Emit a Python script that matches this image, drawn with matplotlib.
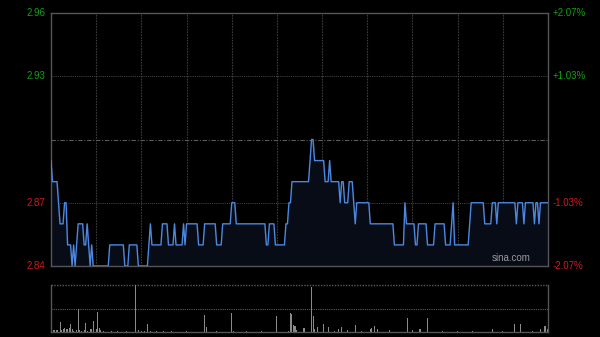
import matplotlib
matplotlib.use("Agg")
import matplotlib.pyplot as plt

# ---- data (minute-by-minute price) ----
prices = [
    2.89,
    2.88, 2.88, 2.88, 2.88,
    2.87,
    2.86, 2.86, 2.86,
    2.87, 2.87,
    2.85, 2.85, 2.85,
    2.84, 2.85, 2.84, 2.85,
    2.86, 2.86, 2.86, 2.86,
    2.85, 2.85, 2.86, 2.85, 2.84, 2.85,
    2.84, 2.84, 2.84, 2.84, 2.84, 2.84, 2.84, 2.84, 2.84, 2.84, 2.84,
    2.85, 2.85, 2.85, 2.85, 2.85, 2.85, 2.85, 2.85, 2.85, 2.85,
    2.84, 2.84, 2.84,
    2.85, 2.85, 2.85, 2.85, 2.85, 2.85,
    2.84, 2.84, 2.84, 2.84, 2.84, 2.84, 2.84,
    2.85, 2.86,
    2.85, 2.85, 2.85, 2.85, 2.85, 2.85, 2.85,
    2.86, 2.86, 2.86, 2.86,
    2.85, 2.85, 2.85, 2.85,
    2.86,
    2.85, 2.85, 2.85, 2.85, 2.85,
    2.86, 2.85,
    2.86, 2.86, 2.86, 2.86, 2.86, 2.86, 2.86, 2.86,
    2.85, 2.85, 2.85, 2.85,
    2.86, 2.86, 2.86, 2.86, 2.86, 2.86, 2.86, 2.86,
    2.85, 2.85, 2.85, 2.85,
    2.86, 2.86, 2.86, 2.86, 2.86, 2.86,
    2.87, 2.87, 2.87,
    2.86, 2.86, 2.86, 2.86, 2.86, 2.86, 2.86, 2.86, 2.86, 2.86,
    2.86, 2.86, 2.86, 2.86, 2.86, 2.86, 2.86, 2.86, 2.86, 2.86,
    2.85, 2.85,
    2.86, 2.86, 2.86, 2.86,
    2.85, 2.85, 2.85, 2.85, 2.85, 2.85, 2.85,
    2.86, 2.86,
    2.87, 2.87,
    2.88, 2.88, 2.88, 2.88, 2.88, 2.88, 2.88, 2.88, 2.88, 2.88, 2.88, 2.88,
    2.89,
    2.90, 2.90,
    2.89, 2.89, 2.89, 2.89, 2.89, 2.89, 2.89,
    2.88, 2.88, 2.88,
    2.89,
    2.88, 2.88, 2.88, 2.88, 2.88, 2.88,
    2.87,
    2.88, 2.88,
    2.87, 2.87, 2.87,
    2.88, 2.88, 2.88,
    2.87, 2.86,
    2.87, 2.87, 2.87, 2.87, 2.87, 2.87, 2.87, 2.87, 2.87,
    2.86, 2.86, 2.86, 2.86, 2.86, 2.86, 2.86, 2.86,
    2.86, 2.86, 2.86, 2.86, 2.86, 2.86, 2.86, 2.86,
    2.85, 2.85, 2.85, 2.85, 2.85, 2.85, 2.85,
    2.87,
    2.86, 2.86, 2.86, 2.86, 2.86, 2.86,
    2.85, 2.85,
    2.86, 2.86, 2.86, 2.86, 2.86, 2.86,
    2.85, 2.85, 2.85, 2.85, 2.85,
    2.86, 2.86, 2.86, 2.86, 2.86, 2.86, 2.86,
    2.85, 2.85, 2.85, 2.85,
    2.86, 2.87,
    2.85, 2.85, 2.85, 2.85, 2.85, 2.85, 2.85, 2.85, 2.85, 2.85,
    2.86,
    2.87, 2.87, 2.87, 2.87, 2.87, 2.87, 2.87, 2.87, 2.87,
    2.86, 2.86, 2.86, 2.86, 2.86,
    2.87, 2.87, 2.87,
    2.86,
    2.87, 2.87, 2.87, 2.87, 2.87, 2.87, 2.87, 2.87, 2.87, 2.87, 2.87, 2.87,
    2.86,
    2.87, 2.87, 2.87, 2.87,
    2.86,
    2.87, 2.87, 2.87, 2.87, 2.87, 2.87,
    2.86,
    2.87, 2.87,
    2.86,
    2.87, 2.87, 2.87, 2.87, 2.87, 2.87,
]

# volume: minute -> relative volume (other minutes ~ no visible trade)
vol_minutes = [2, 4, 6, 7, 8, 9, 10, 11, 12, 13, 14, 15, 17, 18, 19, 20, 22, 23, 24,
               26, 27, 28, 30, 31, 32, 33, 35, 40, 44, 50, 56, 58, 60, 62, 64, 66,
               70, 75, 80, 90, 102, 103, 110, 120, 121, 130, 140, 150, 158, 159, 160,
               161, 162, 163, 168, 173, 174, 175, 177, 181, 184, 188, 191, 193, 197,
               202, 206, 212, 213, 215, 217, 225, 237, 240, 245, 250, 260, 270, 280,
               293, 300, 308, 312, 320, 325, 328, 330]
vol_values = [0.04, 0.05, 0.22, 0.05, 0.06, 0.08, 0.07, 0.06, 0.09, 0.18, 0.07, 0.03,
              0.05, 0.50, 0.04, 0.03, 0.05, 0.20, 0.03, 0.06, 0.06, 0.23, 0.06, 0.43,
              0.08, 0.04, 0.02, 0.03, 0.02, 0.02, 1.00, 0.05, 0.03, 0.03, 0.18, 0.03,
              0.02, 0.03, 0.02, 0.02, 0.36, 0.10, 0.03, 0.40, 0.03, 0.03, 0.02, 0.33,
              0.03, 0.40, 0.38, 0.15, 0.12, 0.05, 0.09, 0.96, 0.33, 0.07, 0.11, 0.16,
              0.11, 0.03, 0.07, 0.11, 0.04, 0.15, 0.03, 0.07, 0.09, 0.13, 0.06, 0.04,
              0.29, 0.05, 0.06, 0.29, 0.02, 0.02, 0.02, 0.06, 0.03, 0.18, 0.18, 0.02,
              0.06, 0.13, 0.06]

prev_close = 2.90
left_ticks = [2.96, 2.93, 2.87, 2.84]
left_labels = ["2.96", "2.93", "2.87", "2.84"]
right_labels = ["+2.07%", "+1.03%", "-1.03%", "-2.07%"]
total_minutes = 330

# ---- figure ----
W, H = 600, 337
fig = plt.figure(figsize=(W / 100, H / 100), dpi=100, facecolor="black")

def box(x0, y0, x1, y1):
    return [x0 / W, 1 - y1 / H, (x1 - x0) / W, (y1 - y0) / H]

ax = fig.add_axes(box(51, 13, 548, 266))
axv = fig.add_axes(box(51, 285, 548, 332))

minutes = list(range(len(prices)))
ymin, ymax = 2.84, 2.96

ax.set_facecolor("black")
ax.set_xlim(0, total_minutes)
ax.set_ylim(ymin, ymax)
ax.fill_between(minutes, prices, ymin, color="#080c17", zorder=1)
ax.plot(minutes, prices, color="#4b88e0", lw=1.0, zorder=3)

# grid
for m in range(30, total_minutes, 30):
    ax.axvline(m, color="#3a3a3a", lw=0.8, ls=(0, (1.5, 1.0)), zorder=0)
for lvl in [2.93, 2.87]:
    ax.axhline(lvl, color="#4a4a4a", lw=0.7, ls=(0, (1.0, 1.2)), zorder=0)
ax.axhline(prev_close, color="#5a5a5a", lw=0.8, ls=(0, (4, 1.5, 1, 1.5)), zorder=0)

for s in ax.spines.values():
    s.set_color("#555555")
    s.set_linewidth(1.0)
ax.set_xticks([])
ax.set_yticks([])

for v, lab, rlab in zip(left_ticks, left_labels, right_labels):
    col = "#12a012" if v > prev_close else "#d01a1a"
    ax.text(-3.5, v, lab, color=col, fontsize=7, ha="right", va="center",
            family="Liberation Sans")
    ax.text(total_minutes + 3, v, rlab, color=col, fontsize=7, ha="left",
            va="center", family="Liberation Sans")

ax.text(0.965, 0.012, "sina.com", transform=ax.transAxes, color="#9a9a9a",
        fontsize=7, ha="right", va="bottom", family="Liberation Sans", zorder=5)

# volume panel
axv.set_facecolor("black")
axv.set_xlim(0, total_minutes)
axv.set_ylim(0, 1.0)
axv.bar(vol_minutes, vol_values, width=0.7, color="#8a8a8a", zorder=2)
axv.axhline(0.5, color="#5a5a5a", lw=0.8, ls=(0, (1.0, 1.0)), zorder=0)
for k in ["left", "right", "bottom"]:
    axv.spines[k].set_color("#555555")
    axv.spines[k].set_linewidth(1.0)
axv.spines["top"].set_visible(False)
axv.axhline(1.0, color="#5a5a5a", lw=1.0, ls=(0, (1.0, 1.0)), zorder=0, clip_on=False)
axv.set_xticks([])
axv.set_yticks([])

fig.savefig("out.png", dpi=100, facecolor="black")
